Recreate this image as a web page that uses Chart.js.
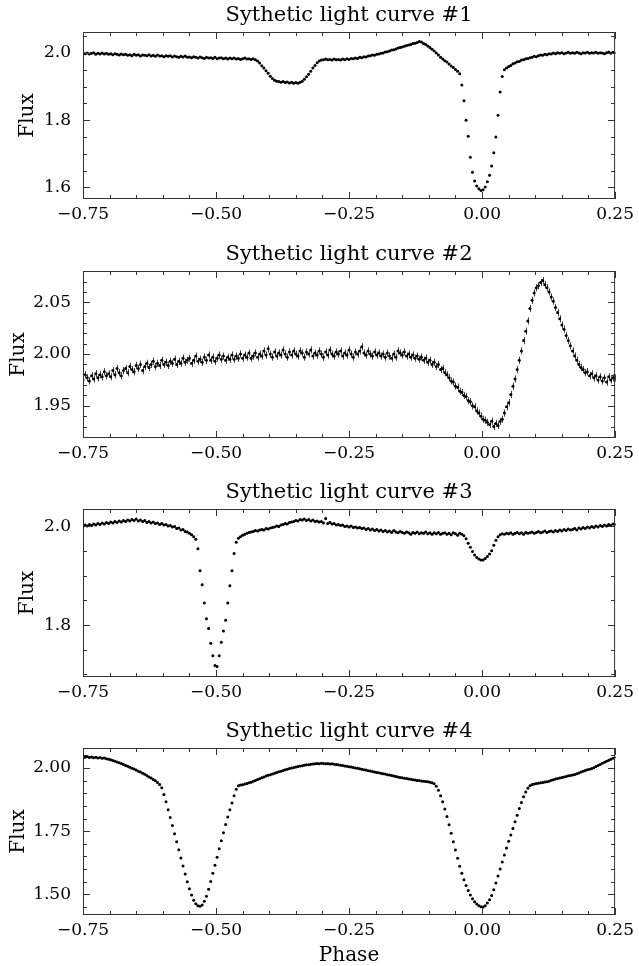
<!DOCTYPE html>
<html>
<head>
<meta charset="utf-8">
<script src="https://cdn.jsdelivr.net/npm/chart.js@4"></script>
<style>
  html, body { margin:0; padding:0; background:#fff; }
  #wrap { position:relative; width:639px; height:966px; }
  #wrap canvas { position:absolute; left:0; }
</style>
</head>
<body>
<div id="wrap">
  <canvas id="c1" width="639" height="240" style="top:0px"></canvas>
  <canvas id="c2" width="639" height="240" style="top:240px"></canvas>
  <canvas id="c3" width="639" height="240" style="top:480px"></canvas>
  <canvas id="c4" width="639" height="246" style="top:720px"></canvas>
</div>
<script>
// Sample grid (phase)
const PHASE_START = -0.75;
const PHASE_STEP = 0.004;

const TITLES = ['Sythetic light curve #1','Sythetic light curve #2','Sythetic light curve #3','Sythetic light curve #4'];
const X_TICKS = [-0.75, -0.5, -0.25, 0, 0.25];

const Y_TICKS_1 = [1.6, 1.8, 2.0];
const Y_TICKS_2 = [1.95, 2.0, 2.05];
const Y_TICKS_3 = [1.8, 2.0];
const Y_TICKS_4 = [1.5, 1.75, 2.0];

// flux, one value per phase step (rows of 10, row k starts at -0.75 + 0.04k)
const FLUX_1 = [
  2.001,1.998,2.000,1.997,1.999,2.001,1.996,1.999,1.997,2.000,
  1.997,1.999,1.996,1.998,1.995,1.998,1.996,1.994,1.997,1.995,
  1.996,1.993,1.995,1.992,1.996,1.993,1.995,1.991,1.994,1.993,
  1.992,1.995,1.991,1.993,1.990,1.994,1.991,1.992,1.989,1.992,
  1.990,1.992,1.988,1.991,1.989,1.987,1.990,1.988,1.991,1.987,
  1.988,1.986,1.989,1.987,1.985,1.988,1.986,1.984,1.987,1.985,
  1.986,1.984,1.987,1.983,1.985,1.986,1.983,1.985,1.982,1.985,
  1.983,1.985,1.982,1.984,1.981,1.983,1.985,1.982,1.983,1.981,
  1.983,1.980,1.976,1.970,1.962,1.955,1.947,1.940,1.931,1.924,
  1.919,1.916,1.915,1.913,1.915,1.912,1.914,1.911,1.913,1.910,
  1.912,1.910,1.913,1.916,1.922,1.929,1.937,1.946,1.955,1.963,
  1.971,1.976,1.979,1.980,1.982,1.980,1.981,1.979,1.982,1.980,
  1.981,1.979,1.982,1.980,1.983,1.981,1.984,1.983,1.985,1.984,
  1.987,1.986,1.989,1.988,1.991,1.992,1.994,1.993,1.996,1.997,
  1.999,2.000,2.003,2.004,2.006,2.009,2.010,2.012,2.015,2.016,
  2.018,2.020,2.022,2.024,2.025,2.028,2.029,2.031,2.034,2.033,
  2.028,2.025,2.021,2.016,2.011,2.006,2.000,1.994,1.987,1.982,
  1.977,1.973,1.967,1.961,1.957,1.951,1.946,1.938,1.905,1.858,
  1.800,1.752,1.690,1.645,1.619,1.604,1.596,1.591,1.593,1.601,
  1.617,1.636,1.664,1.703,1.750,1.815,1.884,1.930,1.950,1.955,
  1.960,1.963,1.968,1.970,1.974,1.975,1.979,1.980,1.983,1.984,
  1.986,1.987,1.990,1.989,1.992,1.994,1.993,1.996,1.995,1.998,
  1.997,2.000,1.998,2.001,1.999,2.001,1.998,2.000,2.002,1.999,
  2.001,1.999,2.002,2.000,1.998,2.001,2.000,2.002,1.999,2.001,
  2.000,2.002,1.999,2.001,2.000,1.998,2.001,2.003,1.999,2.002,
  2.000
];

const FLUX_2 = [
  1.975,1.980,1.977,1.974,1.979,1.976,1.981,1.977,1.980,1.978,
  1.983,1.979,1.981,1.978,1.984,1.980,1.986,1.982,1.979,1.984,
  1.986,1.982,1.988,1.985,1.983,1.989,1.986,1.990,1.984,1.988,
  1.991,1.987,1.990,1.993,1.988,1.991,1.989,1.994,1.990,1.992,
  1.989,1.993,1.991,1.995,1.990,1.993,1.991,1.996,1.992,1.994,
  1.996,1.991,1.994,1.998,1.993,1.995,1.992,1.997,1.994,1.999,
  1.994,1.997,1.993,1.996,1.999,1.995,1.998,1.994,1.997,1.995,
  1.999,1.995,1.998,1.996,2.000,1.996,1.999,1.997,2.001,1.996,
  1.998,2.001,1.997,2.000,1.998,2.003,1.999,2.005,2.000,1.997,
  2.002,1.998,2.001,1.999,2.004,2.000,1.997,2.002,1.999,2.003,
  2.000,1.998,2.003,2.001,1.997,2.002,2.000,2.004,1.998,2.001,
  1.999,2.003,2.000,1.997,2.002,1.999,2.004,2.000,1.998,2.002,
  2.000,2.003,1.998,2.001,1.999,2.004,2.000,1.997,2.002,2.000,
  2.003,2.007,2.001,1.999,2.003,2.000,1.998,2.002,1.999,2.001,
  1.998,2.000,1.997,2.001,1.998,1.996,2.000,1.997,2.003,2.001,
  1.999,2.002,1.998,2.000,1.997,1.999,1.996,1.998,1.995,1.997,
  1.994,1.996,1.992,1.994,1.990,1.992,1.988,1.990,1.985,1.986,
  1.982,1.980,1.977,1.974,1.973,1.969,1.968,1.964,1.963,1.960,
  1.959,1.955,1.954,1.950,1.949,1.945,1.943,1.940,1.937,1.936,
  1.934,1.932,1.935,1.930,1.933,1.931,1.935,1.937,1.943,1.949,
  1.953,1.961,1.969,1.976,1.985,1.994,2.003,2.013,2.022,2.032,
  2.044,2.052,2.059,2.064,2.066,2.069,2.071,2.067,2.064,2.060,
  2.055,2.051,2.045,2.040,2.034,2.028,2.024,2.018,2.013,2.008,
  2.003,1.998,1.994,1.990,1.987,1.985,1.982,1.983,1.979,1.981,
  1.977,1.979,1.975,1.978,1.974,1.977,1.973,1.978,1.975,1.977,
  1.977
];

const FLUX_3 = [
  2.000,2.003,2.001,2.004,2.002,2.005,2.003,2.006,2.004,2.007,
  2.005,2.008,2.006,2.009,2.007,2.010,2.008,2.011,2.009,2.012,
  2.010,2.013,2.011,2.014,2.012,2.015,2.011,2.013,2.010,2.012,
  2.008,2.010,2.007,2.009,2.006,2.007,2.004,2.006,2.003,2.004,
  2.001,2.002,1.999,2.000,1.996,1.997,1.993,1.994,1.990,1.989,
  1.986,1.983,1.979,1.974,1.955,1.910,1.882,1.845,1.813,1.793,
  1.763,1.738,1.718,1.716,1.738,1.765,1.788,1.810,1.845,1.880,
  1.910,1.945,1.968,1.976,1.979,1.982,1.984,1.986,1.988,1.989,
  1.990,1.992,1.991,1.993,1.994,1.993,1.996,1.995,1.997,1.998,
  1.999,2.001,2.000,2.003,2.004,2.006,2.005,2.008,2.009,2.010,
  2.012,2.011,2.014,2.013,2.015,2.012,2.014,2.011,2.013,2.010,
  2.011,2.009,2.010,2.007,2.016,2.006,2.008,2.005,2.006,2.003,
  2.004,2.002,2.003,2.000,2.001,1.999,2.001,1.998,1.999,1.997,
  1.998,1.996,1.997,1.994,1.996,1.993,1.995,1.992,1.994,1.991,
  1.993,1.990,1.992,1.989,1.991,1.988,1.992,1.989,1.987,1.990,
  1.988,1.986,1.989,1.987,1.984,1.988,1.986,1.989,1.985,1.987,
  1.986,1.989,1.985,1.987,1.984,1.987,1.985,1.988,1.984,1.986,
  1.987,1.984,1.986,1.983,1.987,1.985,1.982,1.986,1.984,1.981,
  1.975,1.966,1.958,1.949,1.942,1.937,1.934,1.932,1.932,1.935,
  1.939,1.944,1.951,1.962,1.972,1.979,1.983,1.985,1.984,1.986,
  1.985,1.987,1.984,1.986,1.988,1.985,1.987,1.984,1.988,1.986,
  1.987,1.989,1.986,1.988,1.990,1.987,1.989,1.991,1.988,1.990,
  1.991,1.989,1.992,1.990,1.993,1.991,1.994,1.992,1.995,1.993,
  1.994,1.996,1.993,1.997,1.995,1.998,1.996,1.999,1.997,2.000,
  1.998,2.001,1.999,2.002,2.000,2.003,2.001,2.004,2.002,2.005,
  2.004
];

const FLUX_4 = [
  2.045,2.043,2.046,2.042,2.044,2.041,2.043,2.040,2.042,2.039,
  2.040,2.037,2.035,2.033,2.030,2.027,2.024,2.021,2.018,2.014,
  2.010,2.007,2.003,1.999,1.996,1.992,1.987,1.984,1.979,1.975,
  1.970,1.965,1.961,1.955,1.950,1.943,1.935,1.922,1.895,1.866,
  1.835,1.804,1.772,1.740,1.708,1.676,1.644,1.612,1.580,1.550,
  1.522,1.497,1.476,1.462,1.455,1.453,1.458,1.472,1.492,1.520,
  1.551,1.583,1.615,1.647,1.680,1.712,1.744,1.776,1.806,1.835,
  1.862,1.890,1.916,1.930,1.933,1.934,1.937,1.939,1.942,1.944,
  1.948,1.951,1.955,1.958,1.962,1.965,1.968,1.971,1.973,1.976,
  1.979,1.982,1.985,1.987,1.990,1.993,1.995,1.998,2.000,2.002,
  2.004,2.006,2.008,2.009,2.011,2.013,2.013,2.015,2.016,2.017,
  2.018,2.017,2.019,2.018,2.017,2.018,2.016,2.017,2.015,2.014,
  2.013,2.011,2.010,2.008,2.007,2.005,2.004,2.002,2.000,1.999,
  1.997,1.995,1.993,1.992,1.989,1.988,1.986,1.984,1.982,1.981,
  1.979,1.977,1.976,1.973,1.972,1.970,1.968,1.967,1.965,1.963,
  1.962,1.960,1.959,1.957,1.956,1.954,1.953,1.951,1.951,1.949,
  1.948,1.947,1.946,1.944,1.942,1.938,1.928,1.912,1.890,1.866,
  1.838,1.808,1.775,1.742,1.708,1.675,1.643,1.611,1.583,1.558,
  1.535,1.515,1.497,1.482,1.470,1.461,1.455,1.451,1.450,1.455,
  1.465,1.478,1.495,1.518,1.545,1.572,1.600,1.628,1.656,1.683,
  1.710,1.735,1.761,1.787,1.813,1.840,1.864,1.886,1.905,1.920,
  1.930,1.935,1.937,1.939,1.940,1.942,1.943,1.945,1.946,1.948,
  1.952,1.954,1.957,1.959,1.961,1.963,1.965,1.967,1.969,1.970,
  1.972,1.974,1.977,1.980,1.984,1.987,1.990,1.993,1.995,1.998,
  2.001,2.006,2.010,2.014,2.019,2.023,2.027,2.031,2.035,2.039,
  2.042
];

const SIGMA = [0.002, 0.0035, 0.002, 0.003];

const FONT = '"DejaVu Serif", "Liberation Serif", serif';

// panel geometry: y range, padding, axis sizes
const PANELS = [
  {id:'c1', flux:FLUX_1, yTicks:Y_TICKS_1, dec:1, yMin:1.5655, yMax:2.0625, minor:0.05, padTop:32, xH:41, fluxPad:16},
  {id:'c2', flux:FLUX_2, yTicks:Y_TICKS_2, dec:2, yMin:1.9189, yMax:2.0802, minor:0.01, padTop:31, xH:42, fluxPad:6.5},
  {id:'c3', flux:FLUX_3, yTicks:Y_TICKS_3, dec:1, yMin:1.6948, yMax:2.0354, minor:0.05, padTop:29, xH:43, fluxPad:16},
  {id:'c4', flux:FLUX_4, yTicks:Y_TICKS_4, dec:2, yMin:1.4179, yMax:2.0794, minor:0.05, padTop:28, xH:51, fluxPad:6.5, phase:true}
];

function fmt(v, d){
  const s = Math.abs(v) < 1e-9 ? (0).toFixed(d) : v.toFixed(d);
  return s.replace('-', '\u2212');
}

function steps(min, max, step){
  const out = [];
  for (let k = Math.ceil(min/step - 1e-6); k*step <= max + 1e-6; k++) out.push(k*step);
  return out;
}

// box round the plot with ticks on all four sides, pointing inwards
const frameTicks = {
  id:'frameTicks',
  afterDraw(chart, args, o){
    const {ctx, chartArea:a, scales:{x, y}} = chart;
    ctx.save();
    ctx.strokeStyle = '#333';
    ctx.lineWidth = 1;
    ctx.strokeRect(a.left + 0.5, a.top + 0.5, a.right - a.left - 1, a.bottom - a.top - 1);
    ctx.beginPath();
    const isMajor = (v, list) => list.some(t => Math.abs(t - v) < 1e-6);
    steps(x.min, x.max, 0.05).forEach(v => {
      const px = Math.round(x.getPixelForValue(v)) + 0.5;
      const len = isMajor(v, X_TICKS) ? 7 : 4;
      ctx.moveTo(px, a.bottom); ctx.lineTo(px, a.bottom - len);
      ctx.moveTo(px, a.top); ctx.lineTo(px, a.top + len);
    });
    steps(y.min, y.max, o.minor).forEach(v => {
      const py = Math.round(y.getPixelForValue(v)) + 0.5;
      const len = isMajor(v, o.yTicks) ? 7 : 4;
      ctx.moveTo(a.left, py); ctx.lineTo(a.left + len, py);
      ctx.moveTo(a.right, py); ctx.lineTo(a.right - len, py);
    });
    ctx.stroke();
    ctx.restore();
  }
};

const errorBars = {
  id:'errorBars',
  beforeDatasetsDraw(chart, args, o){
    const {ctx, scales:{x, y}} = chart;
    ctx.save();
    ctx.strokeStyle = '#444';
    ctx.lineWidth = 1;
    ctx.beginPath();
    chart.data.datasets[0].data.forEach(p => {
      const px = Math.round(x.getPixelForValue(p.x)) + 0.5;
      ctx.moveTo(px, y.getPixelForValue(p.y + o.sigma));
      ctx.lineTo(px, y.getPixelForValue(p.y - o.sigma));
    });
    ctx.stroke();
    ctx.restore();
  }
};

const panelTitle = {
  id:'panelTitle',
  afterDraw(chart, args, o){
    const {ctx, chartArea:a} = chart;
    ctx.save();
    ctx.font = '21px ' + FONT;
    ctx.fillStyle = '#000';
    ctx.textAlign = 'center';
    ctx.textBaseline = 'alphabetic';
    ctx.fillText(o.text, (a.left + a.right) / 2, a.top - 11);
    ctx.restore();
  }
};

PANELS.forEach((p, i) => {
  const pts = p.flux.map((f, k) => ({x: PHASE_START + k * PHASE_STEP, y: f}));
  new Chart(document.getElementById(p.id), {
    type:'scatter',
    data:{ datasets:[{ data:pts, pointRadius:1.5, pointBackgroundColor:'#000', pointBorderWidth:0, showLine:false }] },
    options:{
      responsive:false, animation:false, events:[],
      layout:{ padding:{ top:p.padTop, right:23, left:0, bottom:0 } },
      plugins:{
        legend:{display:false}, tooltip:{enabled:false},
        frameTicks:{ minor:p.minor, yTicks:p.yTicks },
        errorBars:{ sigma:SIGMA[i] },
        panelTitle:{ text:TITLES[i] }
      },
      scales:{
        x:{
          type:'linear', min:-0.75, max:0.25,
          grid:{display:false, drawTicks:false}, border:{display:false},
          afterBuildTicks: s => { s.ticks = X_TICKS.map(v => ({value:v})); },
          afterFit: s => { s.height = p.xH; },
          ticks:{ padding:5, autoSkip:false, maxRotation:0, color:'#000', font:{family:FONT, size:17}, callback: v => fmt(v, 2) },
          title:{ display:!!p.phase, text:'Phase', color:'#000', font:{family:FONT, size:20, lineHeight:1}, padding:{top:0, bottom:0} }
        },
        y:{
          type:'linear', min:p.yMin, max:p.yMax,
          grid:{display:false, drawTicks:false}, border:{display:false},
          afterBuildTicks: s => { s.ticks = p.yTicks.map(v => ({value:v})); },
          afterFit: s => { s.width = 83; },
          ticks:{ padding:12, color:'#000', font:{family:FONT, size:17}, callback: v => fmt(v, p.dec) },
          title:{ display:true, text:'Flux', color:'#000', font:{family:FONT, size:20}, padding:{top:p.fluxPad, bottom:0} }
        }
      }
    },
    plugins:[errorBars, frameTicks, panelTitle]
  });
});
</script>
</body>
</html>
